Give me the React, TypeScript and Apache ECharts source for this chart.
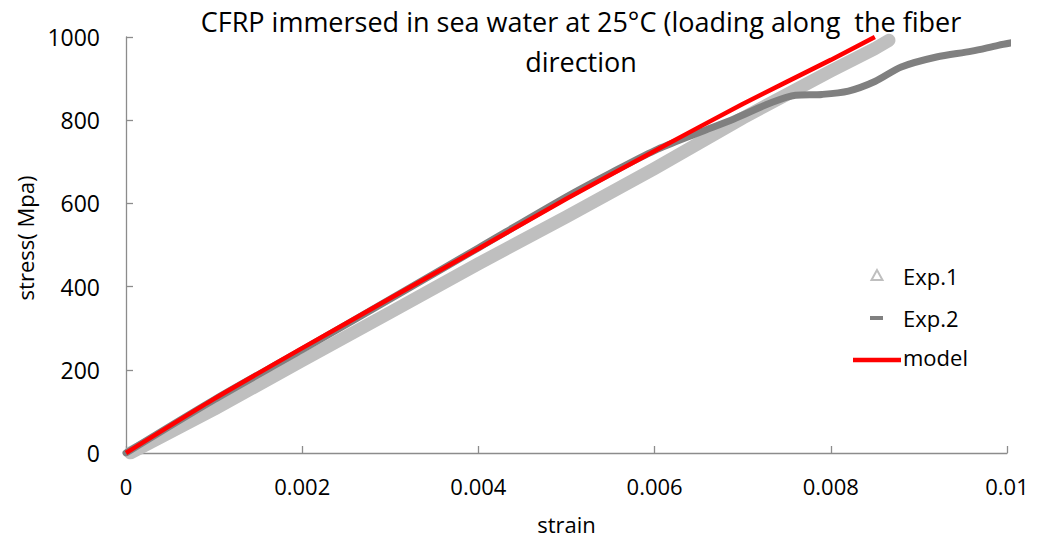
import React, { useEffect, useRef } from "react";
import * as echarts from "echarts";

const titleText = "CFRP immersed in sea water at 25°C (loading along  the fiber\ndirection";
const xName = "strain";
const yName = "stress( Mpa)";
const xTicks = [0, 0.002, 0.004, 0.006, 0.008, 0.01];
const yTicks = [0, 200, 400, 600, 800, 1000];

const exp1Strain = [0.00005, 0.001, 0.002, 0.003, 0.004, 0.005, 0.006, 0.007, 0.0075, 0.008, 0.0085, 0.00866];
const exp1Stress = [0, 105, 222, 338, 455, 568, 684, 805, 862, 918, 972, 992];

const exp2Strain = [0, 0.001, 0.002, 0.003, 0.004, 0.005, 0.0055, 0.006, 0.0065, 0.0069, 0.0073, 0.0076, 0.0079, 0.0082, 0.0085, 0.0088, 0.0092, 0.0096, 0.0099, 0.0101];
const exp2Stress = [0, 128, 248, 370, 493, 616, 673, 727, 770, 803, 840, 860, 862, 870, 893, 928, 952, 966, 980, 988];

const modelStrain = [0, 0.001, 0.002, 0.003, 0.004, 0.005, 0.006, 0.007, 0.008, 0.0085];
const modelStress = [0, 130, 252, 372, 491, 611, 726, 839, 945, 1000];

const FONT = "'Open Sans', 'Noto Sans', sans-serif";

function zip(xs: number[], ys: number[]) {
  return xs.map((x, i) => [x, ys[i]]);
}

export default function App() {
  const ref = useRef<HTMLDivElement>(null);
  useEffect(() => {
    if (!ref.current) return;
    const chart = echarts.init(ref.current, null, { renderer: "svg" });
    const axisColor = "#8c8c8c";
    chart.setOption({
      animation: false,
      backgroundColor: "#ffffff",
      grid: { left: 126, right: 30, top: 37, bottom: 87, containLabel: false },
      xAxis: {
        type: "value",
        min: xTicks[0],
        max: xTicks[xTicks.length - 1],
        interval: 0.002,
        name: xName,
        nameLocation: "middle",
        nameGap: 60,
        nameTextStyle: { fontFamily: FONT, fontSize: 22, color: "#000" },
        axisLine: { show: true, lineStyle: { color: axisColor, width: 1.3 } },
        axisTick: { show: true, inside: true, length: 7, lineStyle: { color: axisColor, width: 1.3 } },
        splitLine: { show: false },
        axisLabel: {
          fontFamily: FONT,
          fontSize: 22,
          color: "#000",
          margin: 22,
          formatter: (v: number) => String(parseFloat(v.toFixed(4))),
        },
      },
      yAxis: {
        type: "value",
        min: yTicks[0],
        max: yTicks[yTicks.length - 1],
        interval: 200,
        name: yName,
        nameLocation: "middle",
        nameGap: 88,
        nameTextStyle: { fontFamily: FONT, fontSize: 22, color: "#000", padding: [0, 0, 0, 14] },
        axisLine: { show: true, lineStyle: { color: axisColor, width: 1.3 } },
        axisTick: { show: true, inside: true, length: 7, lineStyle: { color: axisColor, width: 1.3 } },
        splitLine: { show: false },
        axisLabel: {
          fontFamily: FONT,
          fontSize: 23,
          color: "#000",
          margin: 26,
          formatter: (v: number) => String(v),
        },
      },
      series: [
        {
          name: "Exp.1",
          type: "line",
          data: zip(exp1Strain, exp1Stress),
          showSymbol: false,
          symbol: "none",
          lineStyle: { color: "#bfbfbf", width: 13, cap: "round", join: "round" },
          z: 1,
        },
        {
          name: "Exp.2",
          type: "line",
          data: zip(exp2Strain, exp2Stress),
          showSymbol: false,
          symbol: "none",
          smooth: 0.3,
          lineStyle: { color: "#808080", width: 7, cap: "round", join: "round" },
          z: 2,
        },
        {
          name: "model",
          type: "line",
          data: zip(modelStrain, modelStress),
          showSymbol: false,
          symbol: "none",
          smooth: 0.2,
          lineStyle: { color: "#ff0000", width: 4.5 },
          z: 3,
        },
      ],
      graphic: [
        {
          type: "text",
          x: 581,
          y: 41,
          z: 10,
          style: {
            text: titleText,
            fontFamily: FONT,
            fontSize: 27,
            lineHeight: 40,
            fill: "#000",
            align: "center",
            verticalAlign: "middle",
          },
        },
        {
          type: "polygon",
          shape: { points: [[877, 270], [871.5, 280], [882.5, 280]] },
          style: { fill: "#ffffff", stroke: "#bfbfbf", lineWidth: 2 },
          z: 10,
        },
        {
          type: "text",
          x: 903,
          y: 276,
          style: { text: "Exp.1", fontFamily: FONT, fontSize: 22, fill: "#000", verticalAlign: "middle" },
          z: 10,
        },
        {
          type: "rect",
          shape: { x: 870, y: 316, width: 13, height: 4 },
          style: { fill: "#808080" },
          z: 10,
        },
        {
          type: "text",
          x: 903,
          y: 318,
          style: { text: "Exp.2", fontFamily: FONT, fontSize: 22, fill: "#000", verticalAlign: "middle" },
          z: 10,
        },
        {
          type: "line",
          shape: { x1: 853, y1: 360, x2: 901, y2: 360 },
          style: { stroke: "#ff0000", lineWidth: 4.5 },
          z: 10,
        },
        {
          type: "text",
          x: 903,
          y: 357,
          style: { text: "model", fontFamily: FONT, fontSize: 22, fill: "#000", verticalAlign: "middle" },
          z: 10,
        },
      ],
    });
    return () => chart.dispose();
  }, []);
  return (
    <div
      ref={ref}
      style={{ position: "fixed", left: 0, top: 0, width: 1037, height: 540, background: "#fff" }}
    />
  );
}
